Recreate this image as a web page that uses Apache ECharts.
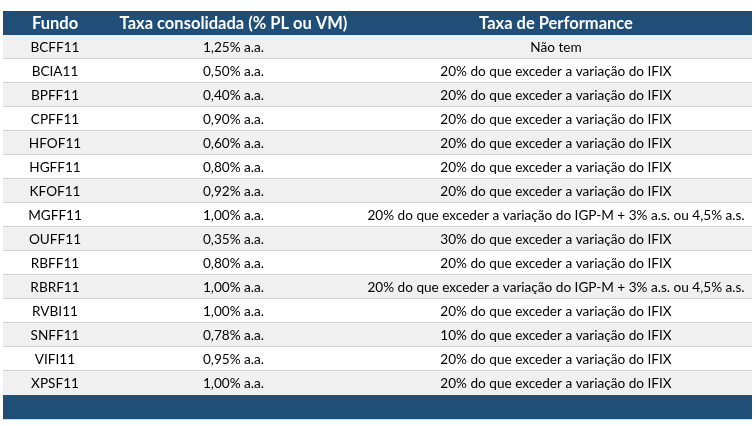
<!DOCTYPE html>
<html><head><meta charset="utf-8">
<script src="https://cdn.jsdelivr.net/npm/echarts@6/dist/echarts.min.js"></script>
<style>html,body{margin:0;padding:0;background:#fff}#c{width:756px;height:426px}</style>
</head><body><div id="c"></div>
<script>
const headers = ['Fundo', 'Taxa consolidada (% PL ou VM)', 'Taxa de Performance'];
const funds = ['BCFF11','BCIA11','BPFF11','CPFF11','HFOF11','HGFF11','KFOF11','MGFF11','OUFF11','RBFF11','RBRF11','RVBI11','SNFF11','VIFI11','XPSF11'];
const fees = ['1,25% a.a.','0,50% a.a.','0,40% a.a.','0,90% a.a.','0,60% a.a.','0,80% a.a.','0,92% a.a.','1,00% a.a.','0,35% a.a.','0,80% a.a.','1,00% a.a.','1,00% a.a.','0,78% a.a.','0,95% a.a.','1,00% a.a.'];
const perfFees = [
  'Não tem',
  '20% do que exceder a variação do IFIX',
  '20% do que exceder a variação do IFIX',
  '20% do que exceder a variação do IFIX',
  '20% do que exceder a variação do IFIX',
  '20% do que exceder a variação do IFIX',
  '20% do que exceder a variação do IFIX',
  '20% do que exceder a variação do IGP-M + 3% a.s. ou 4,5% a.s.',
  '30% do que exceder a variação do IFIX',
  '20% do que exceder a variação do IFIX',
  '20% do que exceder a variação do IGP-M + 3% a.s. ou 4,5% a.s.',
  '20% do que exceder a variação do IFIX',
  '10% do que exceder a variação do IFIX',
  '20% do que exceder a variação do IFIX',
  '20% do que exceder a variação do IFIX'
];

const rowKeys = ['__header'].concat(funds, ['__footer']);
const colEdges = [0, 104, 357, 749];
const DARK = '#1f4e79';
const FONT = 'Lato';

const chart = echarts.init(document.getElementById('c'), null, {renderer: 'canvas'});

function renderItem(params, api) {
  const i = api.value(1);
  const center = api.coord([0, i]);
  const h = api.size([0, 1])[1];
  const x0 = api.coord([colEdges[0], i])[0];
  const x1 = api.coord([colEdges[3], i])[0];
  const top = center[1] - h / 2;
  const cy = center[1];
  const cx = [0,1,2].map(k => api.coord([(colEdges[k] + colEdges[k+1]) / 2, i])[0]);
  const children = [];
  if (i === 0 || i === rowKeys.length - 1) {
    children.push({type: 'rect', shape: {x: x0, y: top, width: x1 - x0, height: h}, style: {fill: DARK}});
    if (i === 0) {
      headers.forEach((t, k) => children.push({
        type: 'text', style: {text: t, x: cx[k], y: cy + 1, align: 'center', verticalAlign: 'middle',
          fill: '#ffffff', font: 'bold 16.5px ' + FONT}}));
    } else {
      children.push({type: 'rect', shape: {x: x0, y: top + h, width: x1 - x0, height: 1}, style: {fill: '#d9d9d9'}});
    }
  } else {
    const r = i - 1;
    children.push({type: 'rect', shape: {x: x0, y: top, width: x1 - x0, height: h},
      style: {fill: r % 2 === 0 ? '#f0f0f0' : '#ffffff'}});
    if (r < funds.length - 1) {
      children.push({type: 'rect', shape: {x: x0, y: top + h - 1, width: x1 - x0, height: 1}, style: {fill: '#d4d4d4'}});
    }
    [funds[r], fees[r], perfFees[r]].forEach((t, k) => children.push({
      type: 'text', style: {text: t, x: cx[k], y: cy + 1, align: 'center', verticalAlign: 'middle',
        fill: '#000000', font: '13.6px ' + FONT}}));
  }
  return {type: 'group', children};
}

chart.setOption({
  animation: false,
  backgroundColor: '#ffffff',
  grid: {left: 3, right: 4, top: 11, bottom: 7},
  xAxis: {type: 'value', min: colEdges[0], max: colEdges[3], show: false},
  yAxis: {type: 'category', data: rowKeys, inverse: true, show: false},
  series: [{
    type: 'custom',
    renderItem: renderItem,
    encode: {x: 0, y: 1},
    data: rowKeys.map((k, i) => [0, i]),
    clip: false
  }]
});
</script>
</body></html>
